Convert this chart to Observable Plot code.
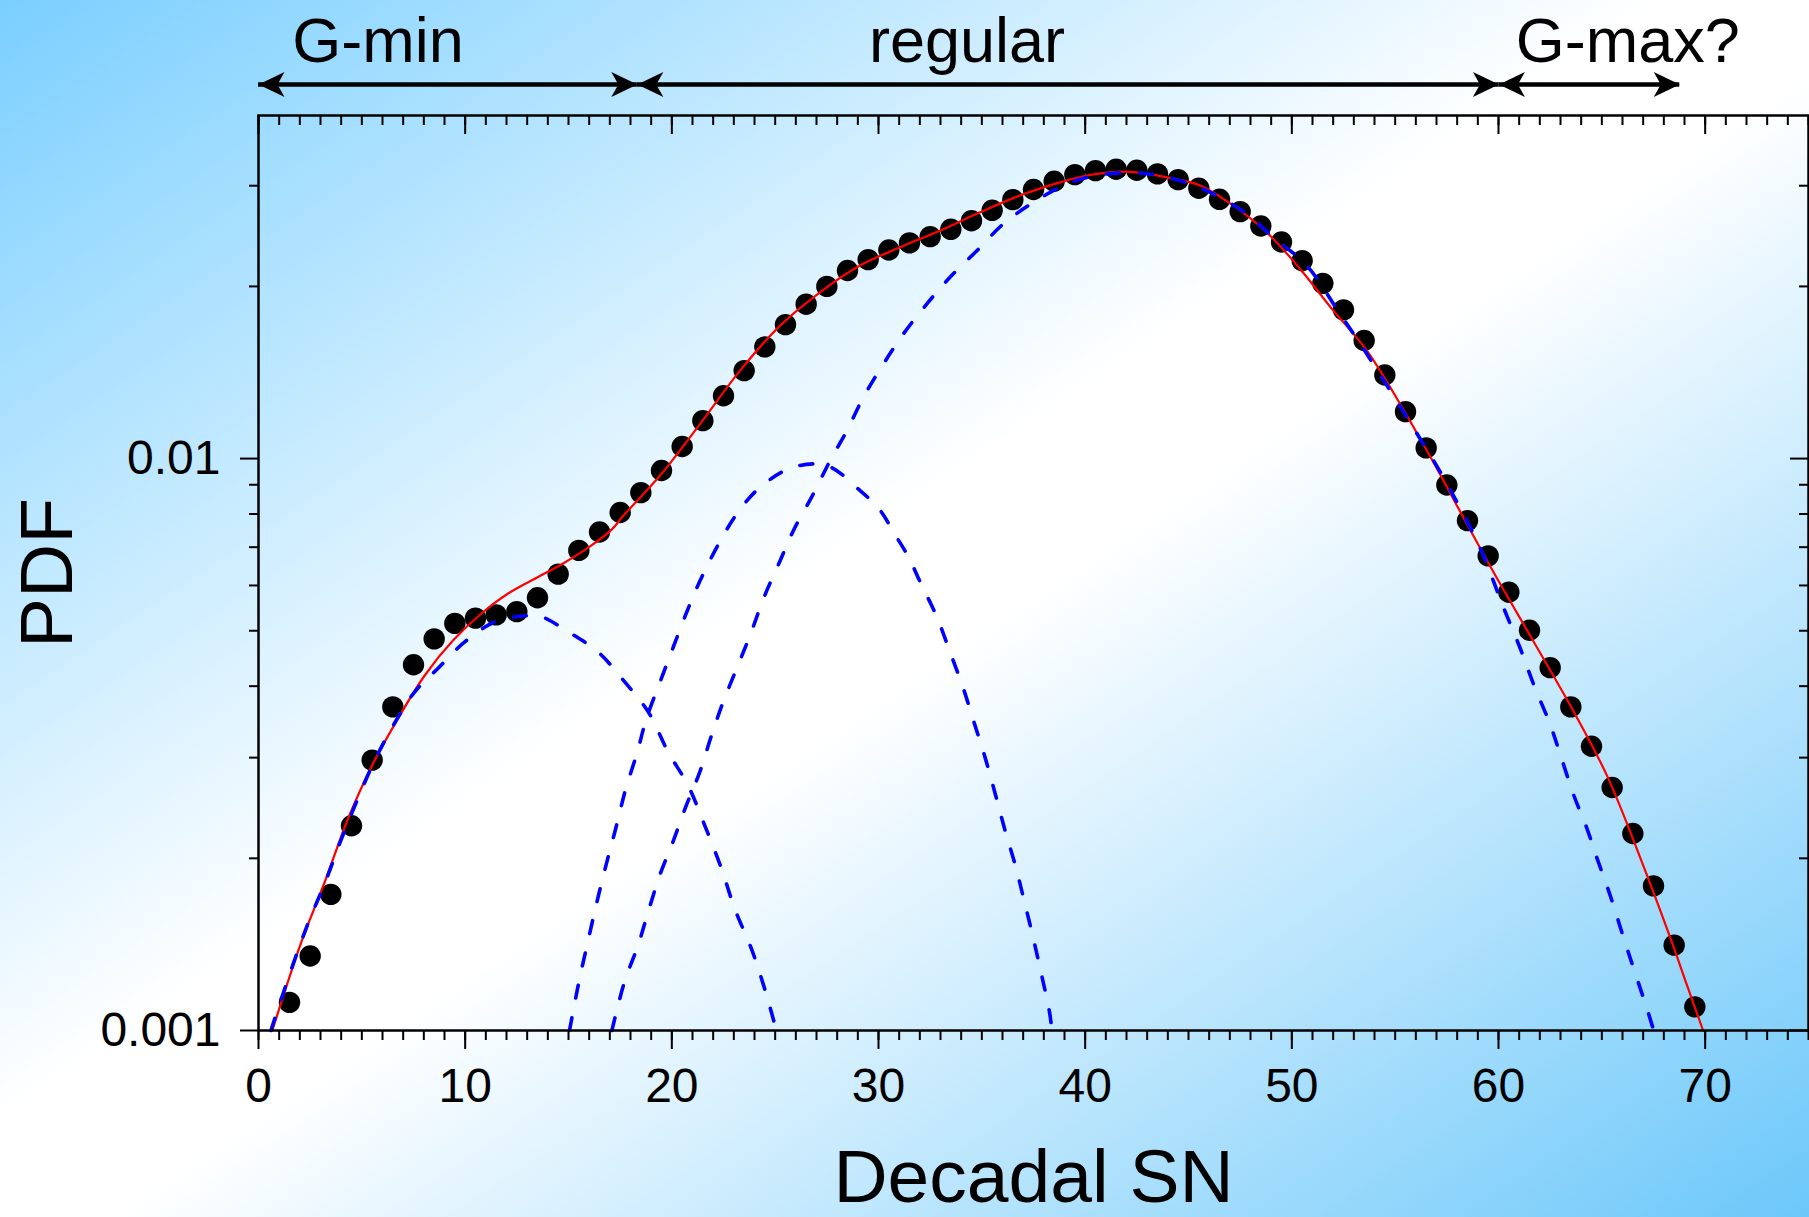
<!DOCTYPE html>
<html><head><meta charset="utf-8">
<script src="https://cdn.jsdelivr.net/npm/d3@7"></script>
<script src="https://cdn.jsdelivr.net/npm/@observablehq/plot@0.6"></script>
<style>
html,body{margin:0;padding:0;background:#fff;}
#chart{width:1809px;height:1217px;background:linear-gradient(to bottom right,#7acfff 0%,#ffffff 46%,#ffffff 53%,#6cc8fa 100%);}
#chart svg{display:block;}
</style></head><body><div id="chart"></div>
<script>
// Observed decadal sunspot-number PDF (bin centres and values)
const snBins = [1.5,2.5,3.5,4.5,5.5,6.5,7.5,8.5,9.5,10.5,11.5,12.5,13.5,14.5,15.5,16.5,17.5,18.5,19.5,20.5,21.5,22.5,23.5,24.5,25.5,26.5,27.5,28.5,29.5,30.5,31.5,32.5,33.5,34.5,35.5,36.5,37.5,38.5,39.5,40.5,41.5,42.5,43.5,44.5,45.5,46.5,47.5,48.5,49.5,50.5,51.5,52.5,53.5,54.5,55.5,56.5,57.5,58.5,59.5,60.5,61.5,62.5,63.5,64.5,65.5,66.5,67.5,68.5,69.5];
const pdfObserved = [0.00112,0.00135,0.00173,0.00228,0.00297,0.00368,0.00436,0.00484,0.00515,0.00526,0.00533,0.00540,0.00571,0.00628,0.00691,0.00744,0.00805,0.00872,0.00953,0.01050,0.01165,0.01288,0.01425,0.01568,0.01715,0.01862,0.02000,0.02132,0.02228,0.02316,0.02383,0.02444,0.02517,0.02606,0.02717,0.02836,0.02954,0.03054,0.03137,0.03188,0.03205,0.03192,0.03146,0.03075,0.02970,0.02840,0.02703,0.02551,0.02392,0.02219,0.02025,0.01820,0.01609,0.01400,0.01208,0.01044,0.00899,0.00779,0.00676,0.00584,0.00501,0.00431,0.00368,0.00314,0.00266,0.00221,0.00179,0.00141,0.00110];

// Total fit (red)
const fitX = [0.67,2.08,3.21,4.34,5.46,6.75,8.05,9.42,10.79,12.08,13.53,14.66,16.04,17.1,17.66,19.43,21.37,23.3,25.24,27.17,29.1,31.04,32.97,34.91,36.84,38.78,40.08,42.01,43.95,45.56,47.17,48.79,50.4,52.01,53.63,55.24,56.85,58.47,60.08,61.71,63.64,65.25,66.87,68.32,69.12,69.9];
const fitY = [0.00100,0.00143,0.00182,0.00235,0.00289,0.00351,0.00418,0.00481,0.00536,0.00581,0.00621,0.00653,0.00702,0.00752,0.00795,0.00934,0.0115,0.01425,0.01708,0.01953,0.02175,0.02341,0.02503,0.02695,0.02883,0.0304,0.03126,0.03174,0.03103,0.03002,0.02769,0.02486,0.02146,0.01814,0.01545,0.01246,0.00985,0.00769,0.00604,0.00478,0.00361,0.00279,0.0020,0.00145,0.0012,0.00100];

// Component 1 (G-min)
const comp1X = [0.6,1.59,2.4,3.21,4.01,4.82,5.63,6.59,7.56,8.69,9.98,11.43,12.89,13.69,14.98,16.43,17.72,18.85,19.82,20.79,21.6,22.4,23.05,23.85,24.5,25.06];
const comp1Y = [0.00100,0.00128,0.00154,0.00181,0.00216,0.00255,0.00297,0.00345,0.00391,0.0043,0.00478,0.00518,0.00531,0.00529,0.00498,0.00459,0.00407,0.00361,0.00307,0.00268,0.00228,0.00192,0.00163,0.00139,0.00118,0.00100];

// Component 2
const comp2X = [15.05,15.47,16.03,16.43,16.87,17.32,17.75,18.32,18.77,19.42,20.06,20.71,21.37,22.18,23.14,24.27,25.88,27.5,29.11,30.08,30.72,31.45,32.01,32.82,33.46,34.08,34.62,35.16,35.64,36.12,36.61,37.06,37.47,37.87,38.27,38.39];
const comp2Y = [0.00100,0.00120,0.00148,0.00171,0.00198,0.00228,0.00263,0.00306,0.00351,0.00406,0.00467,0.00538,0.00612,0.0070,0.0080,0.00891,0.00966,0.00972,0.00879,0.00812,0.00744,0.00673,0.00609,0.00529,0.00459,0.00399,0.00346,0.0030,0.0026,0.00224,0.00195,0.00168,0.00146,0.00126,0.00108,0.00100];

// Component 3
const comp3X = [17.1,17.72,18.37,18.85,19.42,20.06,20.71,21.35,21.92,22.48,23.2,23.85,24.45,25.24,25.88,26.85,27.66,28.47,29.27,30.24,31.2,32.34,33.46,34.76,36.04,37.5,39.11,40.72,42.66,44.59,46.2,47.82,49.1,50.72,52.33,53.63,55.56,57.33,59.12,60.26,61.06,61.71,62.51,63.0,63.64,64.29,64.77,65.41,66.06,66.55,67.19,67.51];
const comp3Y = [0.00100,0.00122,0.00141,0.00161,0.00187,0.00214,0.00248,0.00283,0.00328,0.00375,0.00435,0.00498,0.00571,0.00663,0.00748,0.00868,0.00992,0.01119,0.0128,0.01464,0.01651,0.01864,0.02075,0.02309,0.02572,0.02806,0.0302,0.03133,0.03157,0.03062,0.02903,0.02677,0.02437,0.02175,0.01791,0.01524,0.01181,0.00927,0.00696,0.00547,0.00465,0.00402,0.00342,0.00303,0.00258,0.00225,0.0020,0.00172,0.00145,0.00128,0.00109,0.00100];

// Regime annotations
const regionLabels = ["G-min", "regular", "G-max?"];
const regionStart = [0, 18.33, 60.02];
const regionEnd = [18.33, 60.02, 68.77];
const regionLabelX = [5.78, 34.28, 66.26];

// Axis ticks
const xMajorTicks = [0,10,20,30,40,50,60,70];
const xMinorTicks = d3.range(0, 76, 1);
const yMajorTicks = [0.001, 0.01];
const yMinorTicks = [0.002,0.003,0.004,0.005,0.006,0.007,0.008,0.009,0.02,0.03];

const W = 1809, H = 1217, mL = 258, mR = 1, mT = 115, mB = 187;
const frameW = W - mL - mR, frameH = H - mT - mB;
const yDomain = [0.001, 0.0398];

const toRows = (xs, ys) => xs.map((x, i) => ({x, y: ys[i]}));
const observed = toRows(snBins, pdfObserved);
const fit = toRows(fitX, fitY);
const comps = [toRows(comp1X, comp1Y), toRows(comp2X, comp2Y), toRows(comp3X, comp3Y)];

const arrowTips = [];
regionStart.forEach((s, i) => {
  arrowTips.push({x: s, rot: 0});
  arrowTips.push({x: regionEnd[i], rot: 180});
});
const arrowHead = {
  draw(ctx, size) {
    const L = Math.sqrt(size / Math.PI);
    ctx.moveTo(0, 0);
    ctx.lineTo(L, -0.48 * L);
    ctx.lineTo(0.73 * L, 0);
    ctx.lineTo(L, 0.48 * L);
    ctx.closePath();
  }
};
const yTop = () => yDomain[1];
const dash = {stroke: "#0000ff", strokeWidth: 3.6, strokeDasharray: "13,20", strokeLinecap: "round", curve: "catmull-rom"};

const chart = Plot.plot({
  width: W, height: H,
  marginLeft: mL, marginRight: mR, marginTop: mT, marginBottom: mB,
  style: {fontFamily: "'Liberation Sans', Arial, sans-serif", background: "transparent", color: "black", overflow: "visible"},
  x: {domain: [0, 75]},
  y: {type: "log", domain: yDomain},
  marks: [
    Plot.dot(observed, {x: "x", y: "y", r: 10.7, fill: "black", stroke: "none"}),
    Plot.line(fit, {x: "x", y: "y", stroke: "#ff0000", strokeWidth: 2.2, curve: "catmull-rom"}),
    ...comps.map(c => Plot.line(c, {x: "x", y: "y", ...dash})),
    Plot.frame({stroke: "black", strokeWidth: 2.5}),
    // bottom axis
    Plot.axisX({ticks: xMinorTicks, tickSize: 10, tickFormat: () => "", label: null, strokeWidth: 2}),
    Plot.axisX({ticks: xMajorTicks, tickSize: 19, tickPadding: 18, fontSize: 48, label: null, strokeWidth: 2}),
    // top mirror ticks (inward)
    Plot.tickX(xMinorTicks, {x: d => d, insetBottom: frameH - 10, strokeWidth: 2}),
    Plot.tickX(xMajorTicks, {x: d => d, insetBottom: frameH - 19, strokeWidth: 2}),
    // left axis
    Plot.axisY({ticks: yMinorTicks, tickSize: 9, tickFormat: () => "", label: null, strokeWidth: 2}),
    Plot.axisY({ticks: yMajorTicks, tickSize: 18, tickPadding: 20, fontSize: 48, tickFormat: d => String(d), label: null, strokeWidth: 2}),
    // right mirror ticks (inward)
    Plot.tickY(yMinorTicks, {y: d => d, insetLeft: frameW - 9, strokeWidth: 2}),
    Plot.tickY(yMajorTicks, {y: d => d, insetLeft: frameW - 18, strokeWidth: 2}),
    // axis titles
    Plot.text(["Decadal SN"], {frameAnchor: "bottom", dy: 171, lineAnchor: "bottom", textAnchor: "middle", fontSize: 75}),
    Plot.text(["PDF"], {frameAnchor: "left", dx: -186.5, rotate: -90, lineAnchor: "bottom", textAnchor: "middle", fontSize: 75}),
    // regime arrows and labels
    Plot.ruleY(regionStart.map((_, i) => i), {x1: i => regionStart[i], x2: i => regionEnd[i], y: yTop, dy: -31, strokeWidth: 4.5, stroke: "black"}),
    Plot.dot(arrowTips, {x: "x", y: yTop, dy: -31, symbol: arrowHead, r: 26, rotate: "rot", fill: "black", stroke: "none"}),
    Plot.text(regionLabels, {x: (d, i) => regionLabelX[i], frameAnchor: "top", dy: -54, lineAnchor: "bottom", textAnchor: "middle", fontSize: 63})
  ]
});
document.getElementById("chart").appendChild(chart);
</script>
</body></html>
